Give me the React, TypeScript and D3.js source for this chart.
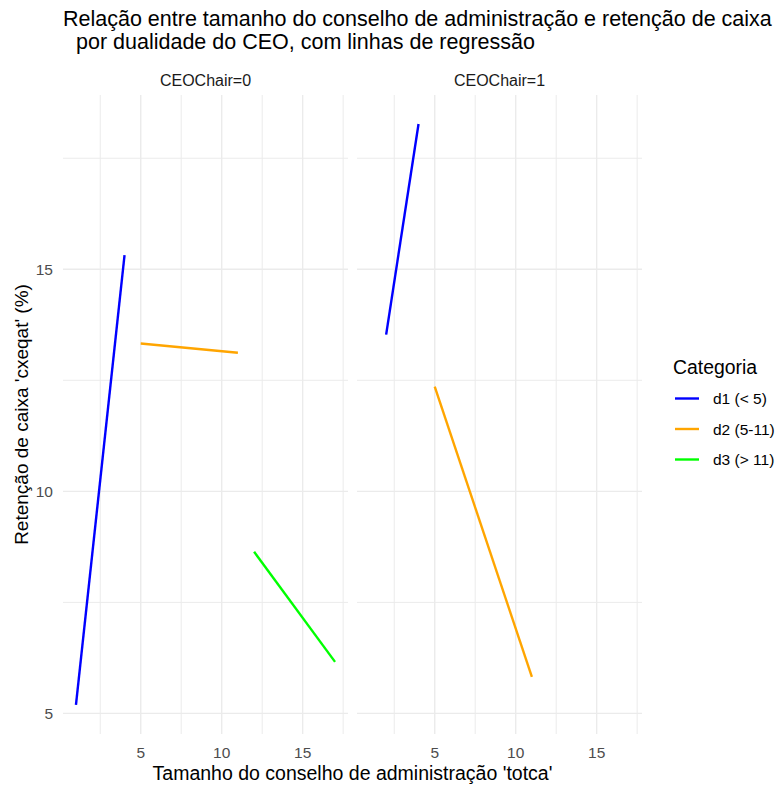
import React from 'react';
import * as d3 from 'd3';

// regression line endpoints [totca, cxeqat]
const facets = ['CEOChair=0', 'CEOChair=1'];
const categories = ['d1 (< 5)', 'd2 (5-11)', 'd3 (> 11)'];
const colors = ['#0000FF', '#FFA500', '#00FF00'];

const chair0_d1 = [[1, 5.19], [4, 15.32]];
const chair0_d2 = [[5, 13.33], [11, 13.12]];
const chair0_d3 = [[12, 8.64], [17, 6.16]];
const chair1_d1 = [[2, 13.53], [4, 18.27]];
const chair1_d2 = [[5, 12.36], [11, 5.82]];

const xTicks = [5, 10, 15];
const xMinor = [2.5, 7.5, 12.5, 17.5];
const yTicks = [5, 10, 15];
const yMinor = [7.5, 12.5, 17.5];

const series = [
  { facet: 0, cat: 0, pts: chair0_d1 },
  { facet: 0, cat: 1, pts: chair0_d2 },
  { facet: 0, cat: 2, pts: chair0_d3 },
  { facet: 1, cat: 0, pts: chair1_d1 },
  { facet: 1, cat: 1, pts: chair1_d2 },
];

const font = 'Liberation Sans, Arial, sans-serif';
const W = 776;
const H = 785;
const panelW = 285;
const panelX = [63, 357];
const top = 95;
const bottom = 734;
const grid = '#EBEBEB';

const expand = (ext: number[]) => {
  const pad = (ext[1] - ext[0]) * 0.05;
  return [ext[0] - pad, ext[1] + pad];
};

const App = () => {
  const allPts = series.flatMap((s) => s.pts);
  const xDom = expand(d3.extent(allPts, (p) => p[0]) as number[]);
  const yDom = expand(d3.extent(allPts, (p) => p[1]) as number[]);
  const y = d3.scaleLinear().domain(yDom).range([bottom, top]);
  const xScales = panelX.map((px) => d3.scaleLinear().domain(xDom).range([px, px + panelW]));

  return (
    <svg width={W} height={H} style={{ position: 'absolute', left: 0, top: 0, background: '#fff' }} fontFamily={font}>
      <text x={63} y={26} fontSize={21.5} fill="#000">Relação entre tamanho do conselho de administração e retenção de caixa</text>
      <text x={76} y={49} fontSize={21.5} fill="#000">por dualidade do CEO, com linhas de regressão</text>

      {facets.map((f, i) => {
        const x = xScales[i];
        const line = d3.line<number[]>().x((d) => x(d[0])).y((d) => y(d[1]));
        return (
          <g key={f}>
            {yMinor.map((v) => (
              <line key={'ym' + v} x1={panelX[i]} x2={panelX[i] + panelW} y1={y(v)} y2={y(v)} stroke={grid} strokeWidth={1} />
            ))}
            {xMinor.map((v) => (
              <line key={'xm' + v} x1={x(v)} x2={x(v)} y1={top} y2={bottom} stroke={grid} strokeWidth={1} />
            ))}
            {yTicks.map((v) => (
              <line key={'y' + v} x1={panelX[i]} x2={panelX[i] + panelW} y1={y(v)} y2={y(v)} stroke={grid} strokeWidth={1.4} />
            ))}
            {xTicks.map((v) => (
              <line key={'x' + v} x1={x(v)} x2={x(v)} y1={top} y2={bottom} stroke={grid} strokeWidth={1.4} />
            ))}
            <text x={panelX[i] + panelW / 2} y={86} fontSize={16} fill="#1A1A1A" textAnchor="middle">{f}</text>
            {xTicks.map((v) => (
              <text key={'xt' + v} x={x(v)} y={758} fontSize={15.5} fill="#4D4D4D" textAnchor="middle">{v}</text>
            ))}
            {series.filter((s) => s.facet === i).map((s) => (
              <path key={s.cat} d={line(s.pts) || ''} fill="none" stroke={colors[s.cat]} strokeWidth={2.4} />
            ))}
          </g>
        );
      })}

      {yTicks.map((v) => (
        <text key={'yt' + v} x={53} y={y(v)} dy="0.36em" fontSize={15.5} fill="#4D4D4D" textAnchor="end">{v}</text>
      ))}

      <text x={(panelX[0] + panelX[1] + panelW) / 2} y={780} fontSize={19.5} fill="#000" textAnchor="middle">
        Tamanho do conselho de administração 'totca'
      </text>
      <text transform={`translate(28,${(top + bottom) / 2}) rotate(-90)`} fontSize={19} fill="#000" textAnchor="middle">
        Retenção de caixa 'cxeqat' (%)
      </text>

      <text x={673} y={374} fontSize={19.4} fill="#000">Categoria</text>
      {categories.map((c, i) => (
        <g key={c} transform={`translate(0,${398.5 + i * 30.5})`}>
          <line x1={675} x2={699} y1={0} y2={0} stroke={colors[i]} strokeWidth={2.4} />
          <text x={713} y={0} dy="0.36em" fontSize={15.5} fill="#000">{c}</text>
        </g>
      ))}
    </svg>
  );
};

export default App;
